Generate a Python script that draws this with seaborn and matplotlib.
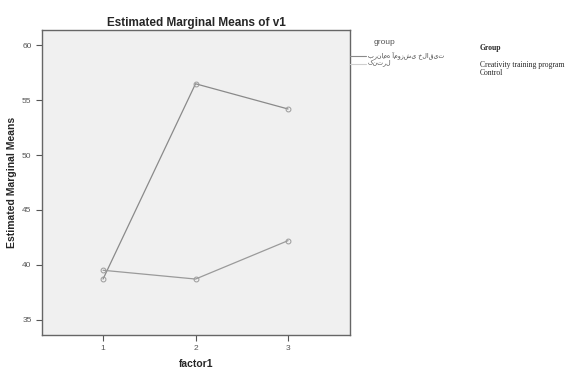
import pandas as pd
import matplotlib
matplotlib.use("Agg")
import matplotlib.pyplot as plt
import seaborn as sns
from matplotlib.lines import Line2D

# values
factor_levels = [1, 2, 3]
creativity_means = [38.7, 56.5, 54.2]
control_means = [39.5, 38.7, 42.2]
group_labels_fa = ["برنامه آموزشی خلاقیت", "کنترل"]
group_labels_en = ["Creativity training program", "Control"]
y_ticks = [35, 40, 45, 50, 55, 60]

df = pd.DataFrame({
    "factor1": factor_levels * 2,
    "v1": creativity_means + control_means,
    "group": [group_labels_fa[0]] * 3 + [group_labels_fa[1]] * 3,
})

sns.set_style("white")
plt.rcParams["font.family"] = ["Liberation Sans", "DejaVu Sans"]

fig = plt.figure(figsize=(5.68, 3.68), dpi=100)
ax = fig.add_axes([42 / 568, 1 - 335 / 368, 308 / 568, 305 / 368])
ax.set_facecolor("#f0f0f0")

sns.lineplot(data=df, x="factor1", y="v1", hue="group",
             palette=["#8a8a8a", "#9a9a9a"], marker="o", markersize=3.5,
             markerfacecolor="none", markeredgecolor="#9a9a9a", markeredgewidth=0.7,
             linewidth=0.9, ax=ax, legend=False)

ax.set_xlim(0.34, 3.67)
ax.set_ylim(33.6, 61.4)
ax.set_xticks(factor_levels)
ax.set_yticks(y_ticks)
ax.tick_params(axis="both", labelsize=6, colors="#555555", length=4, width=0.8,
               direction="out", bottom=True, left=True)
for s in ax.spines.values():
    s.set_color("#666666")
    s.set_linewidth(1)

ax.set_title("Estimated Marginal Means of v1", fontsize=8.5, fontweight="bold", pad=3)
ax.set_xlabel("factor1", fontsize=7.5, fontweight="bold", labelpad=5)
ax.set_ylabel("Estimated Marginal Means", fontsize=7.5, fontweight="bold", labelpad=4)

# SPSS-style legend
fig.text(385 / 568, 1 - 42 / 368, "group", fontsize=6, color="#555555", ha="center", va="center")
fig.add_artist(Line2D([350 / 568, 366 / 568], [1 - 56 / 368] * 2, color="#8a8a8a", lw=0.8))
fig.add_artist(Line2D([350 / 568, 366 / 568], [1 - 64 / 368] * 2, color="#cfcfcf", lw=0.8))
for i, lab in enumerate(group_labels_fa):
    fig.text(368 / 568, 1 - (55 + 8 * i) / 368, lab, fontsize=4.5, color="#444444",
             va="center", family=["DejaVu Sans"])

fig.text(480 / 568, 1 - 48 / 368, "Group", fontsize=5.5, fontweight="bold",
         family=["Liberation Serif"], va="center")
for i, lab in enumerate(group_labels_en):
    fig.text(480 / 568, 1 - (65 + 8 * i) / 368, lab, fontsize=5.5,
             family=["Liberation Serif"], va="center")

fig.savefig("out.png", dpi=100, facecolor="white")
